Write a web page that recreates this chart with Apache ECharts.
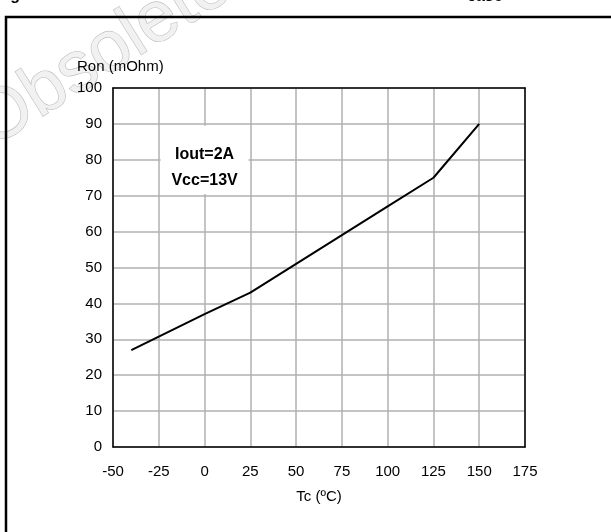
<!DOCTYPE html>
<html><head><meta charset="utf-8">
<script src="https://cdn.jsdelivr.net/npm/echarts@6/dist/echarts.min.js"></script>
<style>html,body{margin:0;padding:0;background:#fff}#c{width:611px;height:532px}</style>
</head><body><div id="c"></div>
<script>
const tempC = [-40, 0, 25, 50, 75, 100, 125, 150];
const ronMOhm = [27, 37, 43, 51, 59, 67, 75, 90];
const xRange = [-50, 175, 25];
const yRange = [0, 100, 10];
const xName = 'Tc (ºC)';
const yName = 'Ron (mOhm)';
const noteLines = ['Iout=2A', 'Vcc=13V'];
const noteBox = [[-24, 89.5], [24, 70.5]];
const watermark = 'Obsolete Product(s) - Obsolete Product(s)';

const FONT = '"Liberation Sans", Arial, Helvetica, sans-serif';
const chart = echarts.init(document.getElementById('c'), null, {renderer: 'canvas'});
const frameAxis = (pos) => ({
  type: 'value', position: pos, min: pos === 'top' ? xRange[0] : yRange[0],
  max: pos === 'top' ? xRange[1] : yRange[1],
  axisLine: {show: true, onZero: false, lineStyle: {color: '#000', width: 1.5}},
  axisTick: {show: false}, axisLabel: {show: false}, splitLine: {show: false}
});
chart.setOption({
  animation: false,
  backgroundColor: '#fff',
  textStyle: {fontFamily: FONT},
  grid: {left: 113, right: 86, top: 88, bottom: 85},
  graphic: [
    {type: 'text', z: -10, x: 0, y: 162, rotation: 0.56,
     style: {text: watermark, font: '72px ' + FONT, fill: '#f1f1f1', stroke: '#bcbcbc', lineWidth: 1.2, textVerticalAlign: 'bottom'}},
    {type: 'polyline', z: 10, shape: {points: [[6, 532], [6, 17], [611, 17]]}, style: {stroke: '#000', lineWidth: 2.5, fill: null}},
    {type: 'text', x: -4, y: 4, style: {text: 'Figure', font: 'bold 16px ' + FONT, fill: '#000', textVerticalAlign: 'bottom'}},
    {type: 'text', x: 467, y: 5, style: {text: 'case', font: 'bold 16px ' + FONT, fill: '#000', textVerticalAlign: 'bottom'}}
  ],
  xAxis: [{
    type: 'value', min: xRange[0], max: xRange[1], interval: xRange[2],
    name: xName, nameLocation: 'middle', nameGap: 42,
    nameTextStyle: {color: '#000', fontSize: 15, fontFamily: FONT},
    axisLine: {show: true, onZero: false, lineStyle: {color: '#000', width: 1.5}},
    axisTick: {show: false},
    axisLabel: {color: '#000', fontSize: 15, margin: 17, fontFamily: FONT},
    splitLine: {show: true, lineStyle: {color: '#b0b0b0', width: 1.5}}
  }, frameAxis('top')],
  yAxis: [{
    type: 'value', min: yRange[0], max: yRange[1], interval: yRange[2],
    name: yName, nameLocation: 'end', nameGap: 14,
    nameTextStyle: {color: '#000', fontSize: 15, align: 'left', padding: [0, 0, 0, -36], fontFamily: FONT},
    axisLine: {show: true, onZero: false, lineStyle: {color: '#000', width: 1.5}},
    axisTick: {show: false},
    axisLabel: {color: '#000', fontSize: 15, margin: 11, fontFamily: FONT},
    splitLine: {show: true, lineStyle: {color: '#b0b0b0', width: 1.5}}
  }, frameAxis('right')],
  series: [{
    type: 'line', xAxisIndex: 0, yAxisIndex: 0,
    data: tempC.map((t, i) => [t, ronMOhm[i]]),
    symbol: 'none', lineStyle: {color: '#000', width: 2},
    markArea: {
      silent: true,
      itemStyle: {color: '#fff', opacity: 1},
      label: {show: true, position: 'inside', offset: [0, 8], formatter: noteLines.join('\n'), color: '#000',
              fontWeight: 'bold', fontSize: 16, lineHeight: 26, fontFamily: FONT},
      data: [[{coord: noteBox[0]}, {coord: noteBox[1]}]]
    }
  }]
});
</script></body></html>
